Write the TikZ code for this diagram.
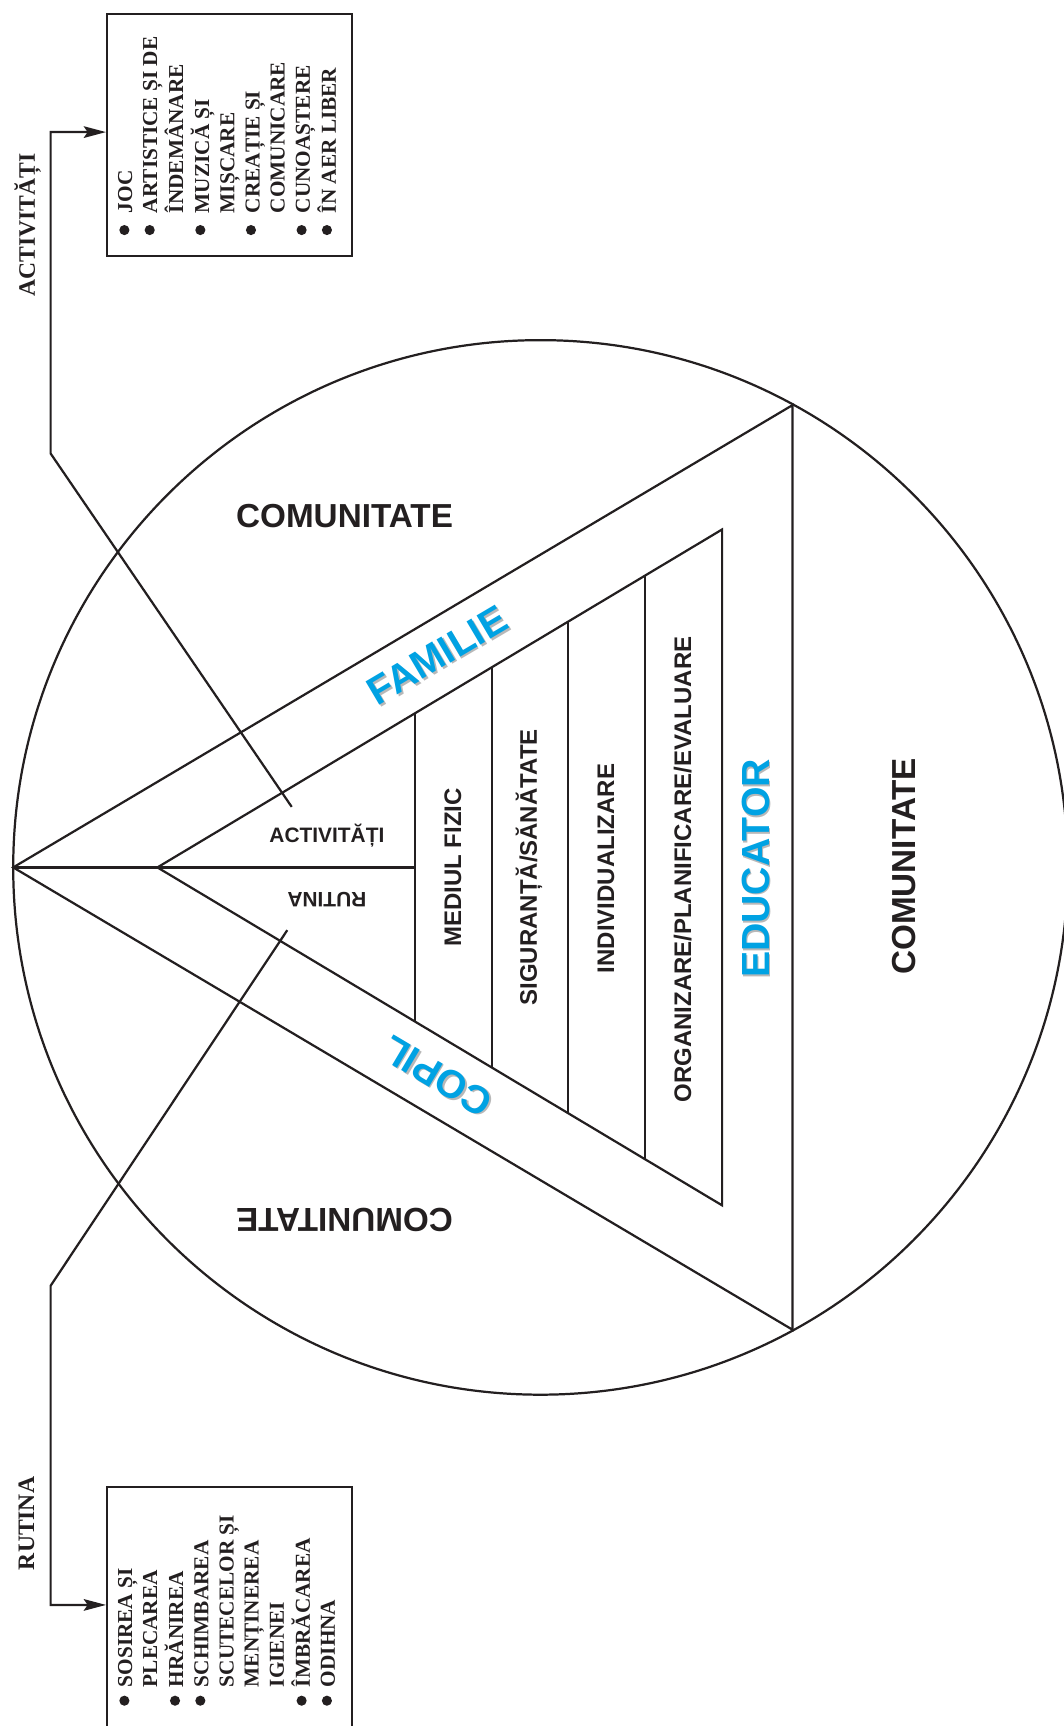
\documentclass[tikz,border=0pt]{standalone}
\usepackage{fontspec}
\setmainfont{Liberation Serif}
\setsansfont{Liberation Sans}
\usetikzlibrary{calc,arrows.meta}
\definecolor{ink}{HTML}{231F20}
\definecolor{cyanb}{RGB}{0,162,227}
\definecolor{shadeg}{gray}{0.72}
% text with a light grey drop shadow (offset given in the node's own frame)
\newcommand\shtext[3]{\makebox[0pt][l]{\hspace*{#1}\raisebox{#2}{\textcolor{shadeg}{#3}}}#3}
\tikzset{
  ln/.style={draw=ink, line width=1.15pt},
  comm/.style={font=\sffamily\bfseries\fontsize{17.2}{17.2}\selectfont, text=ink, inner sep=0pt, text height=12.3pt, text depth=0pt},
  inl/.style={font=\sffamily\bfseries\fontsize{12.4}{12.4}\selectfont, text=ink, inner sep=0pt, text height=8.9pt, text depth=0pt},
  sml/.style={font=\sffamily\bfseries\fontsize{10.8}{10.8}\selectfont, text=ink, inner sep=0pt, text height=7.73pt, text depth=0pt},
  bluet/.style={font=\sffamily\bfseries\fontsize{20.3}{20.3}\selectfont, text=cyanb, inner sep=0pt, text height=14.5pt, text depth=0pt},
  serl/.style={font=\rmfamily\bfseries\fontsize{12.2}{12.2}\selectfont, text=ink, inner sep=0pt, text height=8.08pt, text depth=0pt},
  lst/.style={font=\rmfamily\bfseries\fontsize{11}{13}\selectfont, text=ink, inner sep=0pt, anchor=base west, rotate=90},
  leader/.style={ln, -{Stealth[length=11.5pt,width=6pt,inset=2pt]}},
  listbox/.style={ln, anchor=north west, inner sep=0pt, minimum width=4.448cm}
}
\begin{document}
\begin{tikzpicture}[x=0.02cm,y=-0.02cm]
\useasboundingbox (0,0) rectangle (966,1568);
% circle
\coordinate (C) at (491,788);
\draw[ln] (C) circle[radius=479];
% outer triangle
\coordinate (L) at (12,788);
\coordinate (T) at (720,368);
\coordinate (B) at (720,1208);
\draw[ln] (L) -- (T) -- (B) -- cycle;
% inner triangle
\coordinate (iL) at (143,788);
\coordinate (iT) at (656,481);
\coordinate (iB) at (656,1095);
\draw[ln] (iL) -- (iT) -- (iB) -- cycle;
\foreach \f [count=\k] in {0.4561,0.5926,0.7271,0.8635}{
  \coordinate (vt\k) at ($(iL)!\f!(iT)$);
  \coordinate (vb\k) at ($(iL)!\f!(iB)$);
  \draw[ln] (vt\k) -- (vb\k);
}
\draw[ln] (L) -- (L -| vt1);
% community labels
\node[comm] (cTop) at (313,468) {COMUNITATE};
\node[comm, rotate=180] (cBot) at (313,1108.5) {COMUNITATE};
\node[comm, rotate=90] (cRight) at (821,787) {COMUNITATE};
% blue labels
\node[bluet, rotate=30.6] (fam) at (397,595) {\shtext{0.32pt}{-1.23pt}{FAMILIE}};
\node[bluet, rotate=149.3] (cop) at (397,978) {\shtext{-1.23pt}{0.31pt}{COPIL}};
\node[bluet, rotate=90] (edu) at (686,789) {\shtext{-0.9pt}{-0.9pt}{EDUCATOR}};
% inner labels
\node[inl, rotate=90] (org) at (620,790) {ORGANIZARE/PLANIFICARE/EVALUARE};
\node[inl, rotate=90] (ind) at (550,789) {INDIVIDUALIZARE};
\node[inl, rotate=90] (sig) at (480,788) {SIGURANȚĂ/SĂNĂTATE};
\node[inl, rotate=90] (med) at (411,788) {MEDIUL FIZIC};
\node[sml] (act) at (297,759) {ACTIVITĂȚI};
\node[sml, rotate=180] (rut) at (297,818) {RUTINA};
% side labels
\node[serl, rotate=90] (actL) at (24.5,204.5) {ACTIVITĂȚI};
\node[serl, rotate=90] (rutL) at (24,1384) {RUTINA};
% boxes
\node[listbox, minimum height=4.406cm] (boxA) at (96.3,11.5) {};
\node[listbox, minimum height=4.75cm] (boxR) at (96.3,1349.5) {};
% leaders
\coordinate (aS) at (265,733);
\coordinate (aK) at (46,412);
\coordinate (aY) at (46,120);
\draw[leader] (aS) -- (aK) |- (boxA.west |- aY);
\coordinate (rS) at (261,845);
\coordinate (rK) at (46,1168);
\coordinate (rY) at (46,1458);
\draw[leader] (rS) -- (rK) |- (boxR.west |- rY);
% lists
\node[lst] (listA) at (120,194) {\begin{tabular}[t]{@{}l@{}}
JOC\\ ARTISTICE ȘI DE\\ ÎNDEMÂNARE\\ MUZICĂ ȘI\\ MIȘCARE\\ CREAȚIE ȘI\\ COMUNICARE\\ CUNOAȘTERE\\ ÎN AER LIBER
\end{tabular}};
\foreach \i in {0,1,3,5,7,8}
  \fill[ink] ({113+23*\i},209) circle[radius=4.6];
\node[lst] (listR) at (120,1533) {\begin{tabular}[t]{@{}l@{}}
SOSIREA ȘI\\ PLECAREA\\ HRĂNIREA\\ SCHIMBAREA\\ SCUTECELOR ȘI\\ MENȚINEREA\\ IGIENEI\\ ÎMBRĂCAREA\\ ODIHNA
\end{tabular}};
\foreach \i in {0,2,3,7,8}
  \fill[ink] ({113+23*\i},1545) circle[radius=4.6];
\end{tikzpicture}
\end{document}
